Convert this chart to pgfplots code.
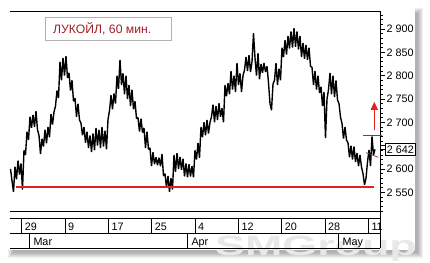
\documentclass[border=0pt]{standalone}
\usepackage{fontspec}
\setmainfont{Liberation Sans}
\usepackage{pgfplots}
\pgfplotsset{compat=1.18}
\usepackage{pgfplotstable}
\usetikzlibrary{arrows.meta}
\definecolor{supred}{RGB}{228,32,32}
\definecolor{titlered}{RGB}{160,30,40}
\definecolor{trendred}{RGB}{150,50,60}
\pgfplotstableread{
x y
10.5 2600
12 2575
13.5 2551
15 2605
16.5 2578
18 2618
19.5 2588
21 2612
22.5 2556
24 2640
25.5 2630
27 2680
28.5 2662
30 2712
31.5 2688
33 2716
34.5 2690
36 2724
37.5 2684
39 2672
40.5 2632
42 2665
43.5 2648
45 2684
46.5 2655
48 2690
49.5 2668
51 2718
52.5 2695
54 2722
55.5 2735
57 2768
58.5 2752
60 2830
61.5 2790
63 2838
64.5 2800
66 2842
67.5 2795
69 2806
70.5 2768
72 2790
73.5 2745
75 2752
76.5 2712
78 2740
79.5 2705
81 2698
82.5 2672
84 2690
85.5 2656
87 2680
88.5 2645
90 2672
91.5 2636
93 2676
94.5 2640
96 2688
97.5 2650
99 2684
100.5 2645
102 2690
103.5 2648
105 2682
106.5 2642
108 2706
109.5 2725
111 2758
112.5 2728
114 2762
115.5 2740
117 2800
118.5 2772
120 2834
121.5 2780
123 2805
124.5 2760
126 2800
127.5 2750
129 2780
130.5 2735
132 2770
133.5 2728
135 2745
136.5 2708
138 2710
139.5 2680
141 2708
142.5 2678
144 2688
145.5 2645
147 2680
148.5 2642
150 2645
151.5 2606
153 2636
154.5 2610
156 2625
157.5 2608
159 2624
160.5 2606
162 2632
163.5 2585
165 2590
166.5 2560
168 2585
169.5 2551
171 2580
172.5 2556
174 2630
175.5 2594
177 2634
178.5 2600
180 2626
181.5 2598
183 2622
184.5 2584
186 2612
187.5 2582
189 2610
190.5 2584
192 2606
193.5 2582
195 2640
196.5 2620
198 2656
199.5 2624
201 2690
202.5 2668
204 2700
205.5 2672
207 2705
208.5 2676
210 2700
211.5 2712
213 2738
214.5 2700
216 2735
217.5 2705
219 2741
220.5 2712
222 2730
223.5 2700
225 2780
226.5 2756
228 2784
229.5 2760
231 2810
232.5 2770
234 2800
235.5 2765
237 2827
238.5 2780
240 2805
241.5 2765
243 2800
244.5 2812
246 2840
247.5 2810
249 2844
250.5 2808
252 2830
253.5 2891
255 2838
256.5 2800
258 2848
259.5 2792
261 2825
262.5 2806
264 2827
265.5 2808
267 2820
268.5 2785
270 2740
271.5 2726
273 2782
274.5 2790
276 2827
277.5 2780
279 2815
280.5 2790
282 2860
283.5 2840
285 2876
286.5 2845
288 2885
289.5 2858
291 2895
292.5 2860
294 2902
295.5 2862
297 2895
298.5 2856
300 2885
301.5 2840
303 2870
304.5 2836
306 2866
307.5 2834
309 2860
310.5 2820
312 2818
313.5 2780
315 2810
316.5 2770
318 2800
319.5 2763
321 2776
322.5 2735
324 2765
325.5 2666
327 2750
328.5 2770
330 2806
331.5 2760
333 2800
334.5 2754
336 2790
337.5 2748
339 2740
340.5 2711
342 2698
343.5 2665
345 2690
346.5 2662
348 2656
349.5 2625
351 2650
352.5 2620
354 2648
355.5 2615
357 2634
358.5 2606
360 2630
361.5 2604
363 2590
364.5 2566
366 2580
367.5 2615
369 2641
370.5 2606
372 2670
373.5 2630
375 2642
}\price
\begin{document}
\begin{tikzpicture}[x=1pt,y=1pt,font=\fontsize{10.8}{12}\selectfont]
\path[use as bounding box] (0,0) rectangle (430,262);
% drop shadow
\foreach \i in {0,...,5}
  \fill[black,opacity=0.06] (8+\i,4+\i) rectangle (423-\i,254-\i);
\fill[white] (0,12) rectangle (415,262);
% watermark
\node[text=black!9, font=\fontsize{28}{28}\selectfont\bfseries, xscale=1.6] at (316,13) {SMGroup};
% title box
\draw[black!30, fill=white] (44.7,222) rectangle (170.7,244.7);
\node[anchor=base west, inner sep=0pt, text=titlered, font=\fontsize{12.2}{13}\selectfont] at (53,228.5) {ЛУКОЙЛ, 60 мин.};
\begin{axis}[
  at={(10pt,51pt)}, anchor=south west,
  scale only axis, width=370pt, height=200pt,
  xmin=10, xmax=380, ymin=2509.9, ymax=2938.6,
  separate axis lines,
  axis x line*=box, axis y line*=right,
  axis line style={-, line width=0.8pt},
  xtick=\empty,
  ytick={2550,2600,2650,2700,2750,2800,2850,2900},
  yticklabels={2 550,2 600,,2 700,2 750,2 800,2 850,2 900},
  minor ytick={2510,2520,...,2930},
  tick align=outside,
  major tick length=5pt, minor tick length=2.5pt,
  tick style={black, line width=0.6pt},
  yticklabel style={anchor=west, inner sep=0pt, xshift=1.5pt},
  clip=false,
]
\addplot[black, line width=1.4pt, line join=bevel] table {\price};
\addplot[supred, line width=2.2pt] coordinates {(16,2561) (374,2561)};
\addplot[trendred, line width=0.7pt] coordinates {(363,2671) (382,2671)};
\addplot[trendred, line width=0.7pt] coordinates {(366,2635) (378.3,2625)};
\addplot[supred, line width=1.3pt, -{Triangle[width=7pt,length=8pt]}] coordinates {(374.3,2683) (374.3,2744)};
\draw[line width=0.6pt] (axis cs:380,2642) -- ([xshift=5pt]axis cs:380,2642);
\node[draw, line width=0.6pt, anchor=west, inner xsep=1.5pt, inner ysep=0pt, minimum height=12pt, fill=white] at ([xshift=5pt]axis cs:380,2642) {2 642};
\end{axis}
% date and month rows
\draw[line width=0.8pt] (10,44) -- (380,44) (10,29) -- (380,29) (10,14) -- (380,14) (380,51) -- (380,14);
\foreach \x/\l in {21.7/29, 65/9, 108.3/17, 151.7/25, 195/4, 238.3/12, 281.7/20, 325/28, 368.3/11} {
  \draw[line width=0.8pt] (\x,44) -- (\x,29);
  \node[anchor=base west, inner sep=0pt] at (\x+3,32) {\l};
}
\foreach \x/\l in {29.3/Mar, 187.3/Apr, 338.3/May} {
  \draw[line width=0.8pt] (\x,29) -- (\x,14);
  \node[anchor=base west, inner sep=0pt] at (\x+4,17) {\l};
}
\end{tikzpicture}
\end{document}
